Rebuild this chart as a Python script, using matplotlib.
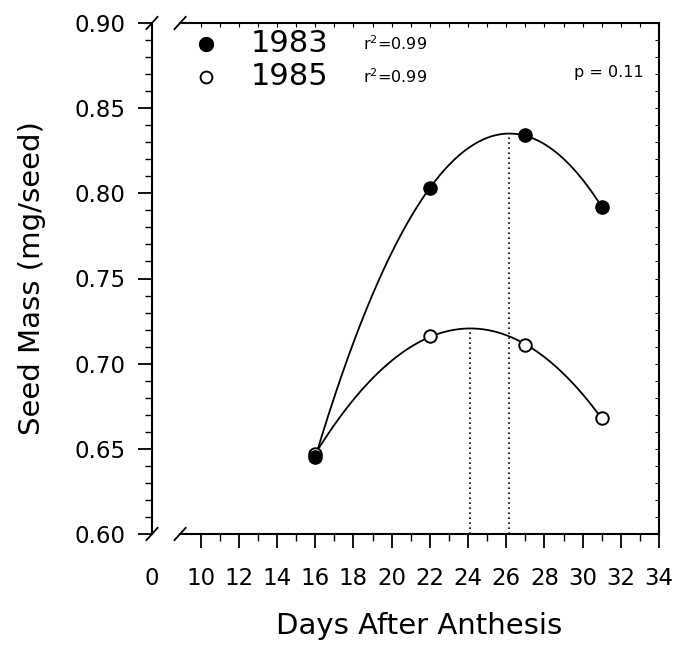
import numpy as np
import matplotlib
matplotlib.use("Agg")
import matplotlib.pyplot as plt
from matplotlib.ticker import MultipleLocator, FixedLocator

plt.rcParams['font.family'] = ['DejaVu Sans']

# ---- data ----
days = [16, 22, 27, 31]
mass_1983 = [0.645, 0.803, 0.834, 0.792]
mass_1985 = [0.647, 0.716, 0.711, 0.668]
years = ["1983", "1985"]
r2_labels = ["r$^{2}$=0.99", "r$^{2}$=0.99"]
p_label = "p = 0.11"
x_tick_values = [10, 12, 14, 16, 18, 20, 22, 24, 26, 28, 30, 32, 34]
y_tick_values = [0.60, 0.65, 0.70, 0.75, 0.80, 0.85, 0.90]

fig = plt.figure(figsize=(6.84, 6.52), dpi=100)
ax = fig.add_axes([152/684, 1-534/652, 507/684, 511/652])

x_left = 7.45   # position standing for the broken "0"
x_break = 8.92
ax.set_xlim(x_left, 34)
ax.set_ylim(0.60, 0.90)

# fitted quadratic curves and vertices
xs = np.linspace(min(days), max(days), 300)
for vals in (mass_1983, mass_1985):
    c = np.polyfit(days, vals, 2)
    ax.plot(xs, np.polyval(c, xs), color='black', lw=1.3, zorder=2)
    xv = -c[1] / (2*c[0])
    yv = np.polyval(c, xv)
    ax.plot([xv, xv], [0.60, yv], color='black', lw=1.2, ls=(0, (1, 2.0)), zorder=1)

ax.plot(days, mass_1985, 'o', ms=9, mfc='white', mec='black', mew=1.4, zorder=3)
ax.plot(days, mass_1983, 'o', ms=9.5, mfc='black', mec='black', zorder=4)

# spines
for s in ax.spines.values():
    s.set_linewidth(1.5)
ax.spines['bottom'].set_bounds(x_break, 34)
ax.spines['top'].set_bounds(x_break, 34)

# ticks
ax.set_xticks([x_left] + x_tick_values)
ax.set_xticklabels(["0"] + [str(v) for v in x_tick_values])
ax.xaxis.set_minor_locator(FixedLocator(list(range(11, 34, 2))))
ax.set_yticks(y_tick_values)
ax.set_yticklabels([f"{v:.2f}" for v in y_tick_values])
ax.yaxis.set_minor_locator(MultipleLocator(0.01))
ax.tick_params(axis='both', which='major', direction='out', length=10, width=1.3, labelsize=16.5)
ax.tick_params(axis='x', which='major', pad=14)
ax.tick_params(axis='y', which='major', pad=9)
ax.tick_params(axis='both', which='minor', direction='out', length=5, width=1.0)
ax.xaxis.get_major_ticks()[0].tick1line.set_visible(False)

# inward small ticks on top and right
secx = ax.secondary_xaxis('top')
secx.set_xticks(list(range(10, 35, 1)))
secx.tick_params(direction='in', length=3, width=0.8, labeltop=False)
secx.spines['top'].set_visible(False)
secy = ax.secondary_yaxis('right')
secy.set_yticks(list(np.round(np.arange(0.60, 0.901, 0.01), 2)))
secy.tick_params(direction='in', length=3, width=0.8, labelright=False)
secy.spines['right'].set_visible(False)

# axis break slashes
dx, dy = 0.011, 0.012
xb = (x_break - x_left) / (34 - x_left)
for xa in (0.0, xb):
    for ya in (0.0, 1.0):
        ax.plot([xa - dx, xa + dx], [ya - dy, ya + dy], transform=ax.transAxes,
                color='black', lw=1.3, clip_on=False)

ax.set_xlabel("Days After Anthesis", fontsize=21)
ax.xaxis.set_label_coords((xb + 1) / 2, -0.152)
ax.set_ylabel("Seed Mass (mg/seed)", fontsize=21)
ax.yaxis.set_label_coords(-0.21, 0.5)

# legend-like annotations
ax.plot([10.3], [0.8877], 'o', ms=10, mfc='black', mec='black', clip_on=False)
ax.plot([10.3], [0.8683], 'o', ms=8.5, mfc='white', mec='black', mew=1.4, clip_on=False)
ax.text(12.6, 0.8877, years[0], fontsize=22, va='center', ha='left')
ax.text(12.6, 0.8683, years[1], fontsize=22, va='center', ha='left')
ax.text(18.5, 0.8840, r2_labels[0], fontsize=11.5, va='baseline', ha='left')
ax.text(18.5, 0.8646, r2_labels[1], fontsize=11.5, va='baseline', ha='left')
ax.text(33.2, 0.8712, p_label, fontsize=11.5, va='center', ha='right')

fig.savefig("out.png", dpi=100)
